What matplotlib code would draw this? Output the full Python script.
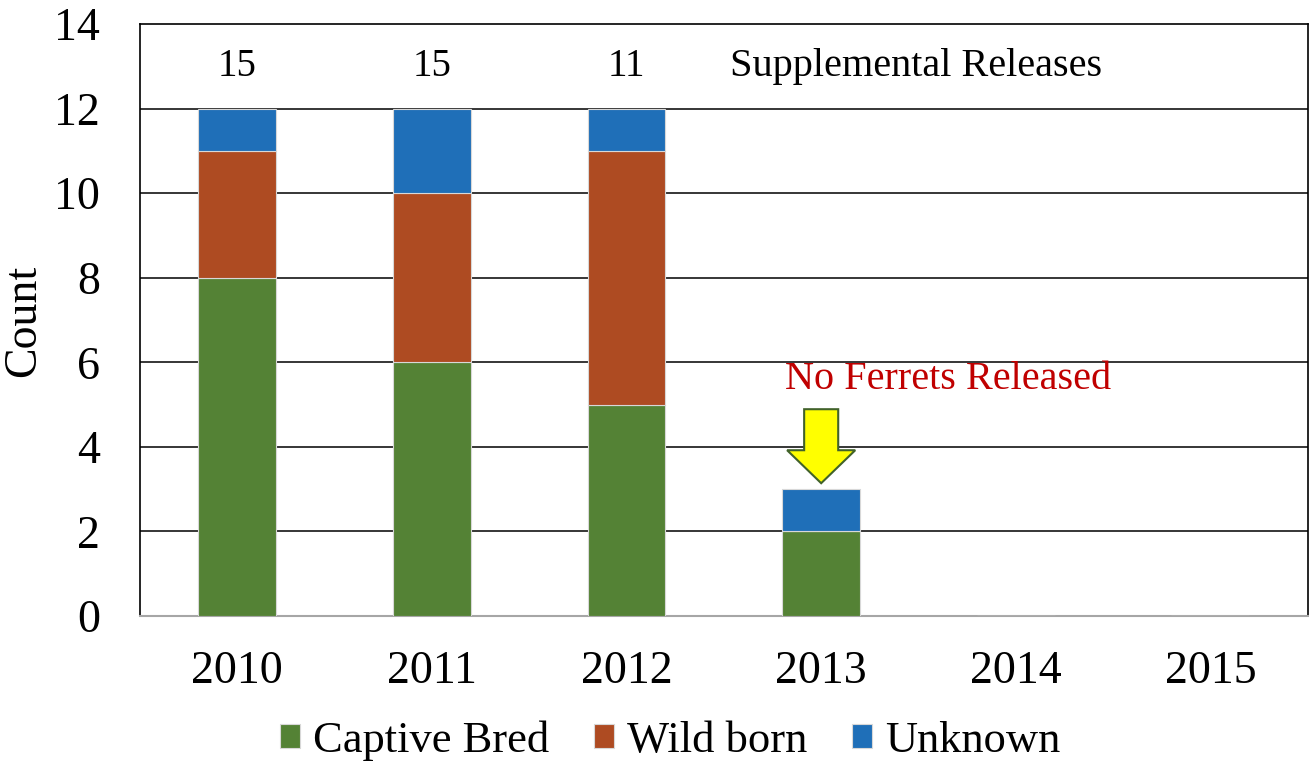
import numpy as np
import matplotlib
matplotlib.use('Agg')
import matplotlib.pyplot as plt
from matplotlib.patches import FancyArrow

years = ['2010', '2011', '2012', '2013', '2014', '2015']
captive = [8, 6, 5, 2, 0, 0]
wild = [3, 4, 6, 0, 0, 0]
unknown = [1, 2, 1, 1, 0, 0]
supplemental = ['15', '15', '11']

plt.rcParams['font.family'] = ['Liberation Serif', 'DejaVu Serif']

fig = plt.figure(figsize=(13.09, 7.63), dpi=100)
ax = fig.add_axes([0.107, 0.1927, 0.892, 0.7758])

x = np.arange(len(years))
w = 0.4
cols = ['#548235', '#AE4B22', '#1F6FB8']
edge = dict(edgecolor='#d8d8d8', linewidth=0.8)
cap = np.array(captive)
wb = np.array(wild)
ax.bar(x, cap, w, color=cols[0], label='Captive Bred', zorder=3, **edge)
ax.bar(x, wb, w, bottom=cap, color=cols[1], label='Wild born', zorder=3, **edge)
ax.bar(x, unknown, w, bottom=cap + wb, color=cols[2], label='Unknown', zorder=3, **edge)

ax.set_xlim(-0.5, 5.5)
ax.set_ylim(0, 14)
ax.set_yticks(range(0, 15, 2))
ax.set_xticks(x)
ax.set_xticklabels(years)
ax.tick_params(axis='both', length=0, labelsize=33)
ax.tick_params(axis='y', pad=29)
ax.tick_params(axis='x', pad=25)
for v in range(2, 14, 2):
    ax.axhline(v, color='black', lw=1.1, zorder=1)
for s in ['left', 'top', 'right']:
    ax.spines[s].set_color('black')
    ax.spines[s].set_linewidth(1.2)
ax.spines['bottom'].set_color('#a6a6a6')
ax.spines['bottom'].set_linewidth(1.5)
ax.set_ylabel('Count', fontsize=33)
ax.yaxis.set_label_coords(-0.081, 0.498)

# supplemental release counts
for i, s in enumerate(supplemental):
    ax.text(x[i], 13, s, ha='center', va='center', fontsize=28)
ax.text(3.49, 13, 'Supplemental Releases', ha='center', va='center', fontsize=29)

ax.text(3.65, 5.6, 'No Ferrets Released', ha='center', va='center',
        fontsize=29, color='#C00000')
arr = FancyArrow(3, 4.89, 0, -1.75, width=0.175, head_width=0.35,
                 head_length=0.78, length_includes_head=True,
                 facecolor='#FFFF00', edgecolor='#41622A', linewidth=1.5, zorder=4)
ax.add_patch(arr)

ax.legend(loc='center', bbox_to_anchor=(0.454, -0.21), ncol=3, frameon=False,
          fontsize=32, handlelength=0.45, handleheight=0.45,
          handletextpad=0.3, columnspacing=1.0)

fig.savefig('out.png', dpi=100)
